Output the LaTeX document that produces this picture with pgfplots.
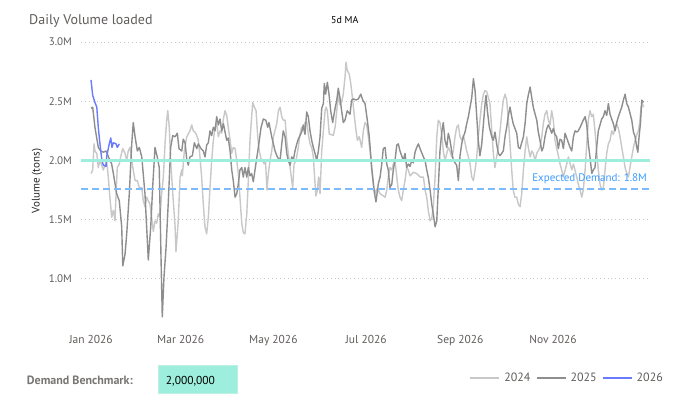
\documentclass[border=0pt]{standalone}
\usepackage{fontspec}
\setmainfont{PT Sans}
\usepackage{pgfplots}
\pgfplotsset{compat=1.18}
\definecolor{c24}{HTML}{C8C8C8}
\definecolor{c25}{HTML}{8E8E8E}
\definecolor{c26}{HTML}{6B7BFF}
\definecolor{benchcol}{HTML}{9DEEDC}
\definecolor{benchborder}{HTML}{BDEFE3}
\definecolor{expcol}{HTML}{7CBBFF}
\definecolor{explab}{HTML}{3D9BFF}
\definecolor{txtgray}{HTML}{605E5C}
\definecolor{gridcol}{HTML}{C8C8C8}
\begin{document}
\begin{tikzpicture}[x=1pt,y=1pt]
\path[use as bounding box, fill=white] (0,0) rectangle (677,394);
\begin{axis}[
  at={(81pt,73.6pt)}, anchor=south west, scale only axis,
  width=569pt, height=278.4pt,
  xmin=-6.58, xmax=367.8, ymin=0.65, ymax=3.0,
  clip=false,
  axis line style={draw=none},
  major tick length=0pt,
  xtick={0,59,120,181,243,304},
  xticklabels={Jan 2026,Mar 2026,May 2026,Jul 2026,Sep 2026,Nov 2026},
  ytick={1,1.5,2,2.5,3},
  yticklabels={1.0M,1.5M,2.0M,2.5M,3.0M},
  ymajorgrids,
  major grid style={gridcol, line width=0.9pt, dash pattern=on 0.9pt off 3pt},
  xticklabel style={anchor=base, inner sep=0pt, yshift=-22.6pt, font=\fontsize{11.5}{13}\selectfont, text=txtgray},
  yticklabel style={anchor=east, inner sep=0pt, xshift=-9pt, font=\fontsize{11}{13}\selectfont, text=txtgray},
  legend columns=3,
  legend style={draw=none, fill=none, at={(1.0229,-0.2069)}, anchor=east, inner sep=0pt,
    nodes={inner sep=0pt, font=\fontsize{12}{14}\selectfont, text=txtgray},
    /tikz/every odd column/.append style={column sep=4pt},
    /tikz/every even column/.append style={column sep=5pt}},
  legend image code/.code={\draw[#1, line width=2pt] (0pt,0pt) -- (29pt,0pt);},
]
\addplot[c24, line width=1.4pt, line join=round] coordinates {
(0,1.89)(1.1,1.92)(2,2.14)(2.6,2.08)(3.8,2.06)(4.8,1.94)(5.9,2.0)(8.1,1.92)(10.3,2.0)(11.4,1.86)(12,1.75)(13,1.61)(13.6,1.52)(14.7,1.58)(15.8,1.49)(16.5,1.72)(17.3,1.94)(18.6,1.97)(19.5,2.03)(20.9,2.1)(22.4,2.06)(23.5,2.0)(24.5,2.08)(25.7,2.11)(26.8,2.0)(27.8,1.92)(29,1.83)(30.5,1.83)(31.8,1.77)(33.4,1.77)(34.4,1.66)(35.5,1.61)(36.7,1.69)(37.7,1.66)(38.8,1.63)(39.9,1.52)(41,1.40)(42.1,1.49)(43.2,1.47)(44.3,1.55)(45.4,1.52)(46.5,1.72)(47.6,1.86)(48.7,2.14)(49.8,2.34)(50.5,2.42)(51.5,2.28)(52.4,2.0)(53.8,1.72)(55.3,1.45)(55.9,1.23)(56.8,1.38)(57.4,1.49)(58.6,1.86)(59.7,1.92)(60.1,1.87)(61.4,2.08)(63,2.2)(65.1,2.25)(66.3,2.3)(67.3,2.25)(68.4,2.24)(69.6,2.21)(70.6,2.17)(71.7,2.03)(72.8,1.86)(73.9,1.63)(75,1.44)(76.1,1.38)(77.2,1.52)(78.3,1.77)(79.4,2.0)(80.5,2.17)(81.6,2.28)(82.7,2.31)(83.8,2.2)(84.9,2.25)(86,2.23)(87.1,2.35)(88.2,2.42)(89.3,2.38)(90.3,2.28)(91.5,2.17)(92.6,2.06)(93.6,2.11)(94.8,2.1)(95.9,2.0)(96.9,1.89)(98,1.69)(99.2,1.47)(100.2,1.39)(101.3,1.38)(102.5,1.55)(103.5,1.83)(104.6,2.17)(105.7,2.37)(106.4,2.49)(107.5,2.45)(108.6,2.42)(109.7,2.2)(110.7,2.08)(111.9,2.01)(112.7,2.0)(114,1.97)(114.8,2.0)(115.8,1.75)(116.7,1.89)(117.8,2.0)(118.9,2.08)(120,2.2)(122.2,2.31)(123.3,2.42)(124.4,2.45)(125.5,2.37)(126.5,2.34)(127.7,2.34)(128.8,2.17)(129.8,2.06)(131,1.94)(132.1,1.83)(132.7,1.77)(133.6,1.97)(134.9,2.0)(136.4,2.11)(137.5,2.22)(138.6,2.28)(139.7,2.25)(140.8,2.32)(141.9,2.33)(143,2.22)(144.1,2.14)(145.2,2.11)(146.3,2.03)(147.4,1.8)(148,1.7)(148.9,1.75)(149.8,1.86)(150.7,1.72)(151.8,2.08)(152.9,2.25)(154,2.42)(154.7,2.45)(155.5,2.42)(156.8,2.22)(157.9,2.22)(159.4,2.21)(160.6,2.28)(161.7,2.42)(162.7,2.56)(163.8,2.47)(165,2.5)(166,2.56)(167.1,2.7)(167.8,2.83)(168.6,2.76)(169.9,2.73)(170.9,2.65)(172.2,2.51)(173.3,2.37)(174.4,2.25)(175.3,2.17)(176.5,2.2)(178.1,2.11)(179.2,2.25)(180.3,2.32)(181.4,2.3)(182.5,2.2)(183.6,2.08)(184.7,1.92)(185.8,1.8)(186.9,1.72)(188,1.76)(189,1.75)(190.2,1.72)(191.3,1.71)(193.5,1.69)(194.6,1.75)(195.6,1.86)(196.7,1.94)(197.9,1.92)(198.9,1.97)(200,2.0)(201.2,1.86)(202.2,1.75)(203.3,1.69)(204.4,1.66)(205.5,1.75)(206.6,1.83)(207.7,1.94)(208.8,1.92)(209.9,1.87)(212.1,1.9)(214.3,1.89)(216.5,1.86)(218.7,1.86)(219.8,1.75)(220.9,1.69)(221.9,1.58)(223.1,1.49)(224.2,1.51)(225.2,1.61)(226.4,1.86)(227.5,2.2)(228.5,2.34)(229.6,2.32)(230.8,2.22)(231.8,2.08)(232.9,2.0)(234.1,2.06)(235.1,2.11)(236.2,2.08)(237.3,2.03)(238.4,2.08)(239.5,2.2)(240.6,2.28)(241.7,2.3)(242.8,2.2)(243.9,2.17)(245,2.21)(246.1,2.15)(247.2,2.08)(248.3,2.03)(249.4,1.97)(250.5,1.86)(251.6,1.83)(252.7,1.92)(253.8,2.03)(254.8,2.2)(255.9,2.34)(257.1,2.48)(258.2,2.56)(259.3,2.59)(260.4,2.58)(262.5,2.48)(263.7,2.25)(264.7,2.06)(265.8,1.94)(266.9,2.03)(268,2.11)(269.1,2.25)(270.2,2.39)(271.3,2.51)(272.4,2.56)(273.5,2.51)(274.6,2.34)(275.7,2.14)(276.8,1.92)(277.8,1.75)(278.9,1.69)(280.1,1.69)(281.2,1.63)(282.3,1.61)(283.4,1.72)(284.5,1.92)(285.6,2.08)(286.7,2.2)(287.7,2.11)(288.9,2.03)(290,2.08)(291,2.06)(292.2,2.0)(293.3,2.06)(295.4,2.11)(296.6,2.2)(297.6,2.31)(298.7,2.39)(299.9,2.42)(300.9,2.34)(302,2.3)(303.1,2.42)(304.2,2.34)(305.3,2.17)(306.4,2.1)(307.5,2.04)(308.6,1.97)(309.7,1.92)(310.8,1.86)(313,1.97)(314.1,2.03)(316.3,1.92)(317.4,1.97)(319.6,1.86)(320.6,1.8)(321.8,1.75)(322.9,1.69)(323.9,1.75)(325.1,1.92)(326.2,2.14)(327.2,2.34)(328.3,2.42)(329.5,2.37)(330.5,2.39)(331.6,2.25)(332.7,2.08)(333.8,1.92)(334.9,1.8)(336,1.75)(337.1,1.77)(338.2,1.92)(339.3,2.06)(340.4,2.14)(341.5,2.17)(342.6,2.25)(343.7,2.22)(344.8,2.28)(345.9,2.31)(347,2.27)(348.1,2.2)(349.2,2.11)(350.3,2.03)(351.4,1.94)(352.5,1.89)(353.6,1.86)(354.6,1.94)(355.8,2.03)(356.9,2.11)(358,2.17)(359.1,2.22)(360.2,2.25)(361.2,2.34)(361.9,2.45)(362.8,2.48)(363.5,2.45)
};
\addlegendentry{2024}
\addplot[c25, line width=1.4pt, line join=round] coordinates {
(0,2.44)(1.1,2.45)(2.6,2.28)(4.8,2.11)(6.4,2.08)(8.1,2.07)(9.9,2.08)(12.5,2.0)(13.6,1.97)(14.7,1.89)(16.9,1.72)(18.6,1.66)(20.2,1.44)(20.9,1.11)(22.4,1.21)(23.5,1.38)(25.2,1.72)(26.8,2.14)(27.8,2.32)(29,2.2)(30.5,2.08)(31.8,2.11)(33.4,2.03)(35.5,1.72)(37.7,1.16)(39.3,1.44)(40.6,1.78)(42.1,2.11)(43.6,2.03)(44.9,1.94)(46.1,1.16)(46.9,0.68)(48,1.01)(49.4,1.27)(50.9,1.66)(52.4,2.11)(53.8,2.21)(55.3,2.2)(56.8,2.23)(57.9,2.1)(59.7,2.08)(60.7,2.18)(61.9,2.15)(63,2.01)(64,1.96)(65.1,2.03)(66.7,2.04)(68,2.15)(69.6,2.1)(70.6,2.14)(72.4,2.1)(73.9,2.08)(75,2.03)(76.1,2.13)(77.2,2.15)(78.3,2.25)(79.4,2.21)(80.5,2.28)(81.6,2.25)(82.7,2.37)(83.8,2.3)(84.9,2.35)(86,2.25)(87.1,2.31)(88.2,2.24)(89.3,2.17)(90.3,2.19)(91.5,2.08)(92.6,1.92)(93.6,1.83)(94.8,1.69)(95.9,1.72)(96.9,1.8)(98,1.92)(99.2,1.94)(100.2,1.86)(101.3,1.94)(102.5,1.86)(103.5,1.94)(104.6,1.87)(105.7,1.89)(106.8,1.82)(107.9,1.92)(110.1,2.11)(111.9,2.28)(113.4,2.35)(115,2.34)(116.3,2.28)(117.1,2.32)(118.9,2.2)(120,2.14)(121.1,2.08)(122.6,2.03)(124.4,2.0)(125.5,2.14)(126.5,2.25)(127.7,2.2)(128.8,2.06)(129.8,2.0)(131,1.96)(132.1,2.03)(133.1,2.0)(134.2,2.08)(135.4,2.14)(136.4,2.18)(137.5,2.21)(138.6,2.24)(139.7,2.3)(140.8,2.22)(141.9,2.41)(143,2.37)(144.1,2.25)(145.2,2.17)(146.3,2.11)(147.4,2.06)(148.5,2.0)(149.6,2.08)(150.7,2.2)(151.8,2.44)(152.9,2.48)(153.5,2.65)(154.4,2.56)(155.5,2.66)(156.6,2.56)(157.7,2.42)(159,2.32)(160.6,2.44)(161.7,2.51)(162.7,2.61)(163.8,2.53)(165,2.41)(166,2.32)(167.1,2.34)(168.6,2.42)(170.4,2.39)(171.5,2.51)(172.6,2.52)(174.4,2.51)(175.9,2.52)(177.5,2.56)(178.8,2.51)(180.3,2.48)(181.8,2.34)(183.1,2.2)(184.7,1.94)(186.2,1.75)(187.5,1.65)(189,1.8)(190.2,1.86)(191.3,1.97)(192.3,2.1)(193.5,2.11)(194.6,1.97)(195.6,1.92)(196.7,1.77)(197.9,1.8)(198.9,1.92)(200,2.0)(201.2,2.13)(202.2,2.14)(203.3,2.08)(205.5,2.0)(206.6,2.06)(207.7,1.94)(208.8,1.97)(209.9,1.95)(211,2.0)(212.1,1.98)(213.2,2.07)(214.3,2.11)(215.4,2.14)(216.5,2.1)(218.7,2.03)(219.8,2.0)(220.9,1.92)(221.9,1.86)(223.1,1.75)(224.2,1.63)(225.2,1.55)(226.4,1.44)(227.5,1.49)(228.5,1.77)(229.6,2.08)(230.8,2.24)(231.8,2.32)(232.9,2.17)(234.1,2.11)(235.1,2.23)(236.2,2.17)(237.3,2.08)(238.4,2.0)(240.6,1.96)(241.7,1.83)(242.8,2.04)(243.9,2.14)(245,2.2)(246.1,2.24)(247.2,2.31)(248.3,2.37)(249.4,2.45)(250.5,2.53)(251.6,2.69)(252.7,2.59)(253.8,2.37)(254.8,2.17)(255.9,2.04)(257.1,2.14)(258.2,2.31)(259.3,2.48)(259.9,2.55)(260.8,2.42)(262.1,2.28)(263.7,2.2)(264.7,2.17)(265.8,2.24)(266.9,2.14)(268,2.06)(269.1,2.04)(270.2,2.06)(271.3,2.08)(272.4,2.2)(273.5,2.28)(274.6,2.38)(275.7,2.45)(276.8,2.37)(277.8,2.31)(280.1,2.23)(281.2,2.11)(282.3,2.1)(284.5,2.2)(285.6,2.31)(286.7,2.48)(287.7,2.55)(288.9,2.62)(290,2.53)(291,2.45)(292.2,2.39)(293.3,2.34)(294.3,2.24)(295.4,2.17)(296.6,2.08)(297.6,2.11)(298.7,2.2)(299.9,2.27)(300.9,2.3)(302,2.27)(303.1,2.23)(304.2,2.27)(305.3,2.22)(306.4,2.2)(307.5,2.1)(308.6,2.18)(309.7,2.17)(310.8,2.1)(311.9,2.23)(314.1,2.15)(315.2,2.11)(316.3,2.08)(317.4,2.2)(318.5,2.25)(319.6,2.24)(320.6,2.25)(321.8,2.28)(323.9,2.34)(325.1,2.37)(326.2,2.3)(327.2,2.14)(328.3,2.03)(329.5,1.89)(330.5,1.92)(331.6,1.94)(332.7,2.11)(333.8,2.25)(334.9,2.3)(336,2.35)(337.1,2.37)(338.2,2.42)(339.3,2.38)(340.4,2.48)(341.5,2.39)(342.6,2.35)(343.7,2.31)(344.8,2.25)(345.9,2.32)(347,2.37)(348.1,2.41)(349.2,2.45)(350.3,2.51)(351.4,2.56)(352.5,2.48)(353.6,2.45)(355.8,2.34)(356.9,2.24)(358,2.2)(359.1,2.11)(359.8,2.07)(360.6,2.2)(361.5,2.31)(362.4,2.51)(363.5,2.49)
};
\addlegendentry{2025}
\addplot[c26, line width=1.4pt, line join=round] coordinates {
(0,2.68)(1.1,2.55)(2.6,2.49)(3.8,2.45)(4.8,2.28)(5.9,2.14)(7.2,2.0)(8.1,1.96)(9.9,1.95)(10.3,2.03)(12,2.14)(13,2.19)(13.8,2.11)(14.7,2.15)(16.5,2.14)(17.3,2.11)(18.6,2.14)
};
\addlegendentry{2026}
\addplot[benchcol, line width=3pt, forget plot] coordinates {(-6.58,2.0) (367.8,2.0)};
\addplot[expcol, line width=2pt, dash pattern=on 7pt off 4pt, forget plot] coordinates {(-6.58,1.755) (367.8,1.755)};
\end{axis}
\node[anchor=base west, inner sep=0pt, text=txtgray, font=\fontsize{14}{16}\selectfont] at (29,369) {Daily Volume loaded};
\node[anchor=base west, inner sep=0pt, text=black, font=\fontsize{10}{12}\selectfont] at (331,370) {5d MA};
\node[anchor=base east, inner sep=0pt, text=explab, font=\fontsize{11}{13}\selectfont] at (647,212) {Expected Demand: 1.8M};
\node[rotate=90, inner sep=0pt, text=black!85, font=\fontsize{11}{13}\selectfont] at (37,213) {Volume (tons)};
\node[anchor=base west, inner sep=0pt, text=txtgray!85, font=\bfseries\fontsize{12}{14}\selectfont] at (26.7,10) {Demand Benchmark:};
\draw[fill=benchcol, draw=benchborder, line width=0.8pt] (158,0.7) rectangle (237,28.3);
\node[anchor=base west, inner sep=0pt, text=black, font=\fontsize{11.5}{13}\selectfont] at (165.7,10) {2,000,000};
\end{tikzpicture}
\end{document}
